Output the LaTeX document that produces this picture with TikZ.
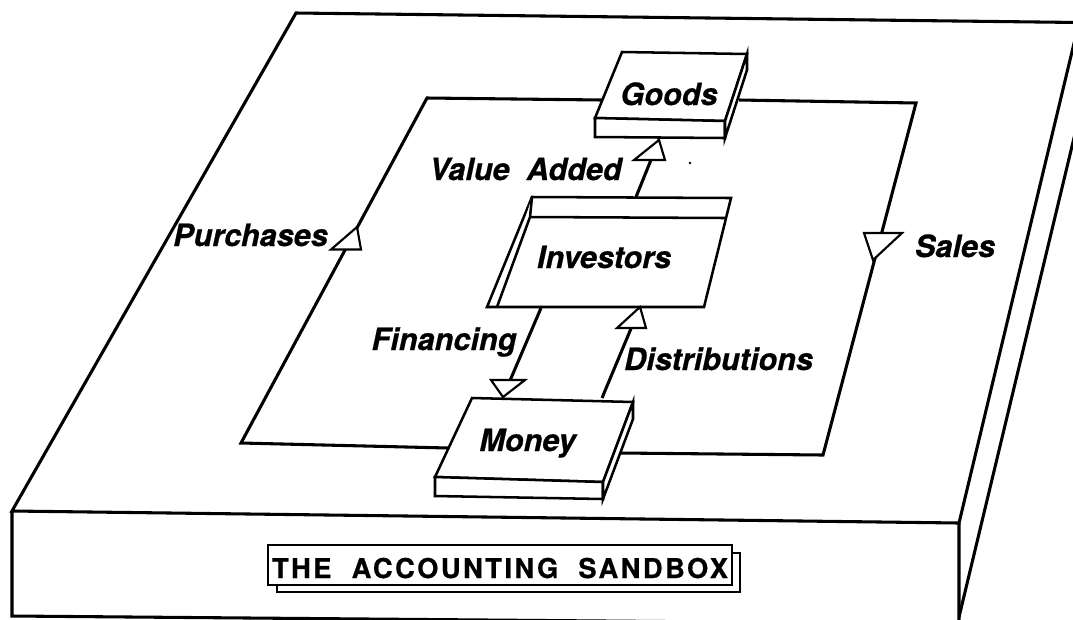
\documentclass[tikz,border=0pt]{standalone}
\usepackage{fontspec}
\setmainfont{TeX Gyre Heros}
\begin{document}
\begin{tikzpicture}[x=0.75pt,y=-0.75pt,
  thickline/.style={line width=2.3pt, line join=miter},
  boxline/.style={line width=1.9pt, line join=miter, fill=white},
  headtri/.style={draw, fill=white, line width=1.6pt, line join=miter},
  lbl/.style={font=\fontsize{23}{26}\selectfont\bfseries\itshape\addfontfeature{FakeBold=0.6}, inner sep=0pt, anchor=base},
  ttl/.style={font=\fontsize{20.5}{24}\selectfont\bfseries\addfontfeature{LetterSpace=9,FakeBold=0.6}, inner sep=0pt, anchor=base}]
\useasboundingbox (0,0) rectangle (1073,619);
\clip (0,0) rectangle (1073,619);

% ---- sandbox outline
\coordinate (sTL) at (296,13);
\coordinate (sBack) at (1079,22.5);
\coordinate (sFL) at (12,511);
\coordinate (sFR) at (959,523);
\coordinate (sBL) at (12,616);
\coordinate (sBR) at (959,624);
\coordinate (sBack2) at (1079,117);
\draw[thickline] (sTL) -- (sBack) -- (sFR) -- (sFL) -- cycle;
\draw[thickline] (sFL) -- (sBL) -- (sBR) -- (sFR);
\draw[thickline] (959,617) -- (sBack2);

% ---- loop corners and box contacts
\coordinate (goodsL) at (602,100);
\coordinate (goodsR) at (739,100);
\coordinate (cTL) at (427,98);
\coordinate (cBL) at (241,443);
\coordinate (moneyL) at (448,448);
\coordinate (moneyR) at (620,453);
\coordinate (cBR) at (823,455);
\coordinate (cTR) at (916,103);
\draw[thickline] (goodsL) -- (cTL) -- (cBL) -- (moneyL);
\draw[thickline] (goodsR) -- (cTR) -- (cBR) -- (moneyR);

% ---- inner flows
\coordinate (invTop) at (636,197);
\coordinate (vaTip) at (659,140);
\coordinate (invBotL) at (541,308);
\coordinate (finTip) at (503,397);
\coordinate (monTop) at (602,398);
\coordinate (disTip) at (640,307);
\draw[thickline] (invTop) -- (vaTip);
\draw[thickline] (invBotL) -- (finTip);
\draw[thickline] (monTop) -- (disTip);

% ---- Goods box
\coordinate (g1) at (622,52);
\coordinate (g2) at (747,54);
\coordinate (g3) at (725,121);
\coordinate (g4) at (595,118);
\coordinate (g3b) at (725,138);
\coordinate (g4b) at (595,137);
\coordinate (g2b) at (747,70);
\draw[boxline] (g1) -- (g2) -- (g3) -- (g4) -- cycle;
\draw[boxline] (g4) -- (g3) -- (g3b) -- (g4b) -- cycle;
\draw[boxline] (g2) -- (g2b) -- (g3b) -- (g3) -- cycle;

% ---- Investors box
\coordinate (iA) at (532,197);
\coordinate (iB) at (731,198);
\coordinate (iC) at (704,307);
\coordinate (iD) at (487,307);
\coordinate (iE) at (530,217);
\coordinate (iF) at (726,218);
\coordinate (iG) at (497,307);
\draw[boxline] (iA) -- (iB) -- (iC) -- (iD) -- cycle;
\draw[boxline] (iE) -- (iF);
\draw[boxline] (iA) -- (iE) -- (iG);

% ---- Money box
\coordinate (m1) at (472,398);
\coordinate (m2) at (633,402);
\coordinate (m3) at (603,482);
\coordinate (m4) at (435,477);
\coordinate (m3b) at (603,499);
\coordinate (m4b) at (435,496);
\coordinate (m2b) at (633,419);
\draw[boxline] (m1) -- (m2) -- (m3) -- (m4) -- cycle;
\draw[boxline] (m4) -- (m3) -- (m3b) -- (m4b) -- cycle;
\draw[boxline] (m2) -- (m2b) -- (m3b) -- (m3) -- cycle;

% ---- open arrowheads
\draw[headtri] (331,249.5) -- (361,249.5) -- (357,227) -- cycle;
\draw[headtri] (634,160) -- (665,160) -- (vaTip) -- cycle;
\draw[headtri] (864,233) -- (902,233) -- (873,260) -- cycle;
\draw[headtri] (491,380) -- (525,380) -- (finTip) -- cycle;
\draw[headtri] (617,328) -- (646,328) -- (disTip) -- cycle;

% ---- stray dot
\fill (690,163) circle (1.3);

% ---- labels
\node[lbl] (goods) at (669,105) {Goods};
\node[lbl] (investors) at (604,268) {Investors};
\node[lbl] (money) at (527.5,451) {Money};
\node[lbl] (valueadded) at (525.5,180) {Value\ \ Added};
\node[lbl] (purchases) at (250.5,246) {Purchases};
\node[lbl] (sales) at (955,257) {Sales};
\node[lbl] (financing) at (444,350) {Financing};
\node[lbl] (distributions) at (718.5,370) {Distributions};

% ---- title plate
\draw[line width=1.3pt] (277,553) rectangle (740,592);
\draw[line width=1.3pt, fill=white] (268,545) rectangle (732,585);
\node[ttl] (title) at (500,578) {THE\ \ ACCOUNTING\ \ SANDBOX};
\end{tikzpicture}
\end{document}
